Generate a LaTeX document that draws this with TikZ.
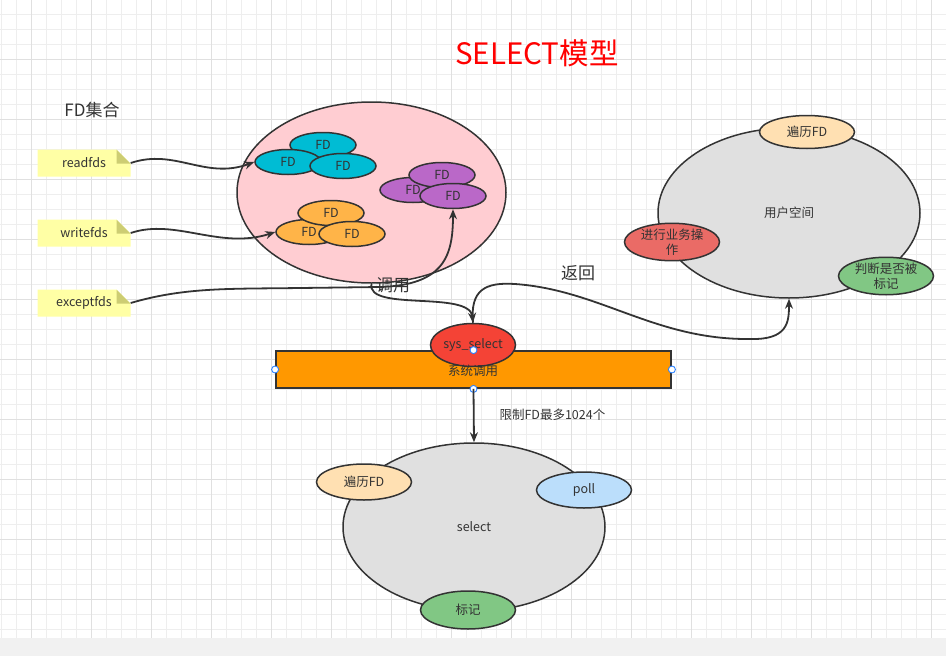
\documentclass[tikz,border=0pt]{standalone}
\usepackage{fontspec}
\setmainfont{Noto Sans CJK SC}
\usepackage{xcolor}
\definecolor{linegray}{RGB}{51,51,51}
\definecolor{gridminor}{RGB}{238,238,238}
\definecolor{gridmajor}{RGB}{224,224,224}
\definecolor{stripgray}{RGB}{241,241,241}
\definecolor{noteyellow}{RGB}{255,255,165}
\definecolor{notefold}{RGB}{205,205,115}
\definecolor{setpink}{RGB}{255,205,210}
\definecolor{fdcyan}{RGB}{0,188,212}
\definecolor{fdorange}{RGB}{255,180,72}
\definecolor{fdpurple}{RGB}{186,104,200}
\definecolor{spacegray}{RGB}{224,224,224}
\definecolor{walkpeach}{RGB}{255,224,178}
\definecolor{pollblue}{RGB}{187,222,251}
\definecolor{markgreen}{RGB}{129,199,132}
\definecolor{bizred}{RGB}{234,107,102}
\definecolor{callred}{RGB}{244,67,54}
\definecolor{callorange}{RGB}{255,152,0}
\definecolor{handleblue}{RGB}{41,128,255}
\usepackage{tikz}
\usetikzlibrary{shapes.geometric, arrows.meta, positioning}

\begin{document}
\begin{tikzpicture}[x=1pt, y=-1pt,
  blob/.style={ellipse, draw=linegray, line width=1.5pt, inner sep=0pt, text=linegray, font=\fontsize{12.5}{15}\selectfont},
  fd/.style={blob, minimum width=66pt, minimum height=25pt},
  tag/.style={blob, minimum width=95pt, minimum height=36pt, align=center},
  big/.style={blob, minimum width=262pt, minimum height=170pt},
  note/.style={minimum width=93pt, minimum height=27pt, inner sep=0pt, text=linegray, font=\fontsize{12.5}{15}\selectfont,
    path picture={
      \fill[noteyellow] (path picture bounding box.south west) -- (path picture bounding box.south east)
        -- ([yshift=-14pt]path picture bounding box.north east) -- ([xshift=-14pt]path picture bounding box.north east)
        -- (path picture bounding box.north west) -- cycle;
      \fill[notefold] ([xshift=-14pt]path picture bounding box.north east) -- ([xshift=-14pt,yshift=-14pt]path picture bounding box.north east)
        -- ([yshift=-14pt]path picture bounding box.north east) -- cycle;}},
  flow/.style={-{Stealth[length=10pt,width=8pt]}, line width=1.8pt, draw=linegray},
  flowlabel/.style={font=\fontsize{17}{20}\selectfont, text=linegray},
  handle/.style={circle, draw=handleblue, fill=white, line width=0.9pt, minimum size=7pt, inner sep=0pt}
]
\useasboundingbox (0,0) rectangle (946,656);

% Background grid
\foreach \gx in {1,16,...,946} \draw[gridminor, line width=1pt] (\gx,0) -- (\gx,638);
\foreach \gy in {14,29,...,638} \draw[gridminor, line width=1pt] (0,\gy) -- (946,\gy);
\foreach \gx in {31,91,...,946} \draw[gridmajor, line width=1pt] (\gx,0) -- (\gx,638);
\foreach \gy in {59,119,...,638} \draw[gridmajor, line width=1pt] (0,\gy) -- (946,\gy);
\fill[stripgray] (0,638) rectangle (946,656);

% Titles
\node[text=red, font=\fontsize{29.5}{34}\selectfont] (title) at (537,53) {SELECT模型};
\node[text=linegray, font=\fontsize{17}{20}\selectfont] (fdset) at (92,110) {FD集合};

% FD sets
\node[note] (readfds) at (84,163) {readfds};
\node[note] (writefds) at (84,233) {writefds};
\node[note] (exceptfds) at (84,303) {exceptfds};

\node[blob, fill=setpink, minimum width=269pt, minimum height=181pt] (fdpool) at (371.5,192.5) {};

\node[fd, fill=fdcyan] (readtop) at (323,145) {FD};
\node[fd, fill=fdcyan] (readleft) at (288,162) {FD};
\node[fd, fill=fdcyan] (readright) at (343,166) {FD};

\node[fd, fill=fdorange] (writeleft) at (309,232) {FD};
\node[fd, fill=fdorange] (writetop) at (331,213) {FD};
\node[fd, fill=fdorange] (writeright) at (352,234) {FD};

\node[fd, fill=fdpurple] (exceptleft) at (413,190) {FD};
\node[fd, fill=fdpurple] (excepttop) at (442,175) {FD};
\node[fd, fill=fdpurple] (exceptright) at (453,196) {FD};

% User space
\node[big, fill=spacegray] (userspace) at (789,213) {用户空间};
\node[tag, fill=walkpeach, minimum height=33pt] (userwalk) at (807,132) {遍历FD};
\node[tag, fill=bizred] (userbiz) at (672,242) {进行业务操\\作};
\node[tag, fill=markgreen] (usercheck) at (886,276) {判断是否被\\标记};

% System call
\node[rectangle, draw=linegray, line width=1.8pt, fill=callorange, minimum width=395pt, minimum height=37pt, inner sep=0pt] (syscall) at (473.5,369.5) {};
\node[blob, fill=callred, minimum width=85pt, minimum height=43pt] (sysselect) at (473,345) {sys\_select};
\node[text=linegray, font=\fontsize{12.5}{15}\selectfont] (syscalltext) at (473,371) {系统调用};
\node[handle] (hwest) at (syscall.west) {};
\node[handle] (heast) at (syscall.east) {};
\node[handle] (hsouth) at (syscall.south) {};
\node[handle] (hnorth) at (syscall.north) {};

% Select
\node[big, fill=spacegray, minimum height=168pt] (select) at (474,527) {select};
\node[tag, fill=walkpeach] (selwalk) at (364,482) {遍历FD};
\node[tag, fill=pollblue] (selpoll) at (584,490) {poll};
\node[tag, fill=markgreen, minimum height=38pt] (selmark) at (468,610) {标记};

% Flows
\draw[flow] (readfds.east) .. controls (175,148) and (205,180) .. (readleft.west);
\draw[flow] (writefds.east) .. controls (175,218) and (220,250) .. (writeleft.west);
\draw[flow] (exceptfds.east) .. controls (185,287) and (230,289) .. (300,288)
  -- (380,287) .. controls (445,285) and (453,255) .. (exceptright.south);
\draw[flow] (fdpool.south) .. controls (366,312) and (470,290) .. (sysselect.north);
\draw[flow] (sysselect.north) .. controls (470,290) and (485,282) .. (515,284)
  .. controls (600,290) and (655,340) .. (750,339) .. controls (788,340) and (789,322) .. (userspace.south);
\draw[flow] (syscall.south) -- (select.north);

\node[flowlabel] (calllabel) at (393,285) {调用};
\node[flowlabel] (backlabel) at (578,273) {返回};
\node[text=linegray, font=\fontsize{12.5}{15}\selectfont, anchor=west] (limitlabel) at (496,415) {限制FD最多1024个};

\end{tikzpicture}
\end{document}
